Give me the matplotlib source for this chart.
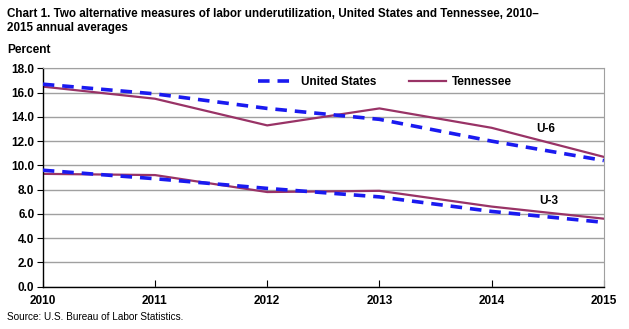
import matplotlib
matplotlib.use("Agg")
import matplotlib.pyplot as plt

plt.rcParams['font.family'] = ['Liberation Sans', 'DejaVu Sans']

# annual averages, percent
years = [2010, 2011, 2012, 2013, 2014, 2015]
us_u6 = [16.7, 15.9, 14.7, 13.8, 12.0, 10.4]
tn_u6 = [16.5, 15.5, 13.3, 14.7, 13.1, 10.7]
us_u3 = [9.6, 8.9, 8.1, 7.4, 6.2, 5.3]
tn_u3 = [9.3, 9.2, 7.8, 7.9, 6.6, 5.6]

us_color = '#1A1AF0'
tn_color = '#993366'

fig = plt.figure(figsize=(6.29, 3.29), dpi=100)
ax = fig.add_axes([0.068, 0.129, 0.892, 0.663])

ax.plot(years, us_u6, color=us_color, lw=2.6, dashes=(3.2, 2.2), label='United States', zorder=3)
ax.plot(years, tn_u6, color=tn_color, lw=1.6, label='Tennessee', zorder=2)
ax.plot(years, us_u3, color=us_color, lw=2.6, dashes=(3.2, 2.2), zorder=3)
ax.plot(years, tn_u3, color=tn_color, lw=1.6, zorder=2)

ax.set_xlim(2010, 2015)
ax.set_ylim(0, 18)
ax.set_yticks([i * 2.0 for i in range(10)])
ax.set_yticklabels([f'{i * 2.0:.1f}' for i in range(10)])
ax.set_xticks(years)
ax.set_xticklabels([str(y) for y in years])
ax.grid(axis='y', color='#A0A0A0', lw=1.0)
ax.set_axisbelow(True)

for side in ['top', 'right']:
    ax.spines[side].set_color('#A0A0A0')
for side in ['left', 'bottom']:
    ax.spines[side].set_color('black')
    ax.spines[side].set_linewidth(1.0)

ax.tick_params(axis='y', direction='out', length=4, labelsize=8.5, pad=2)
ax.tick_params(axis='x', direction='in', length=5, labelsize=8.5, pad=6)
for lab in ax.get_xticklabels() + ax.get_yticklabels():
    lab.set_fontweight('bold')

ax.text(2014.4, 12.75, 'U-6', fontsize=8.5, fontweight='bold')
ax.text(2014.42, 6.85, 'U-3', fontsize=8.5, fontweight='bold')

ax.legend(loc='upper center', bbox_to_anchor=(0.61, 1.015), ncol=2, frameon=False,
          prop={'weight': 'bold', 'size': 8.5}, handlelength=3.1,
          columnspacing=2.8, handletextpad=0.5)

fig.text(0.011, 0.975, 'Chart 1. Two alternative measures of labor underutilization, United States and Tennessee, 2010–\n2015 annual averages',
         fontsize=8.4, fontweight='bold', va='top', linespacing=1.25)
fig.text(0.011, 0.865, 'Percent', fontsize=8.6, fontweight='bold', va='top')
fig.text(0.011, 0.02, 'Source: U.S. Bureau of Labor Statistics.', fontsize=7.2, va='bottom')

fig.savefig('out.png', dpi=100)
